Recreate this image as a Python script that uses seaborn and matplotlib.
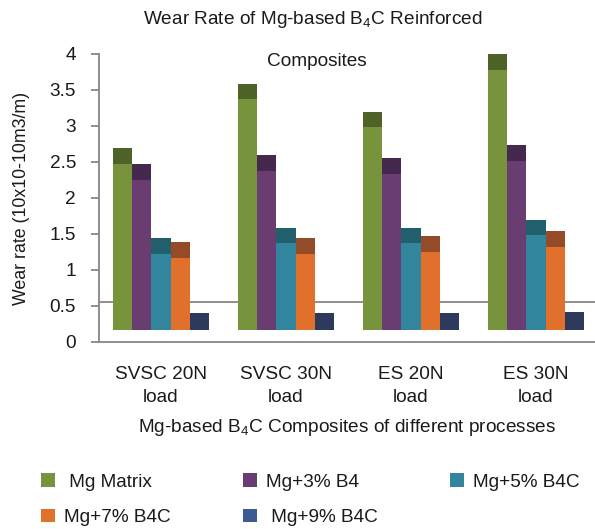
import pandas as pd
import matplotlib
matplotlib.use('Agg')
import matplotlib.pyplot as plt
from matplotlib.patches import Patch
import seaborn as sns

# datos (tope de cada barra, incluida la tapa 3D)
procesos = ['SVSC 20N\nload', 'SVSC 30N\nload', 'ES 20N\nload', 'ES 30N\nload']
compuestos = ['Mg Matrix', 'Mg+3% B4', 'Mg+5% B4C', 'Mg+7% B4C', 'Mg+9% B4C']
mg_matrix = [2.69, 3.59, 3.20, 4.00]
mg_3 = [2.47, 2.60, 2.55, 2.74]
mg_5 = [1.44, 1.59, 1.59, 1.70]
mg_7 = [1.39, 1.44, 1.47, 1.54]
mg_9 = [0.40, 0.40, 0.40, 0.42]

# efecto 3D tipo Excel
piso = 0.17
tapa = 0.22
linea_fondo = 0.55

colores = ['#77933c', '#6a3d72', '#31859c', '#e0702c', '#3d5b93']
colores_tapa = ['#4f6228', '#45284d', '#225f6c', '#944b27', '#2e3a5c']
colores_frente = colores[:4] + [colores_tapa[4]]

series = [mg_matrix, mg_3, mg_5, mg_7, mg_9]
filas = []
for comp, vals in zip(compuestos, series):
    for proc, v in zip(procesos, vals):
        filas.append({'proceso': proc, 'compuesto': comp, 'wear': v, 'frente': max(v - tapa, piso)})
df = pd.DataFrame(filas)

sns.set_style('white')
plt.rcParams['font.family'] = ['Liberation Sans', 'DejaVu Sans']
plt.rcParams['mathtext.fontset'] = 'custom'
plt.rcParams['mathtext.rm'] = 'Liberation Sans'
fs = 13.7
gris = '#8c8580'

fig = plt.figure(figsize=(5.95, 5.29), dpi=100)
ax = fig.add_axes([99 / 595, 1 - 342 / 529, 496 / 595, 288 / 529])

ax.axhline(linea_fondo, color=gris, lw=1.3, zorder=0)

# barra completa (color de tapa)
sns.barplot(data=df, x='proceso', y='wear', hue='compuesto', order=procesos, hue_order=compuestos,
            palette=colores_tapa, width=0.772, gap=0, saturation=1, linewidth=0, legend=False, ax=ax)
# cara frontal
sns.barplot(data=df, x='proceso', y='frente', hue='compuesto', order=procesos, hue_order=compuestos,
            palette=colores_frente, width=0.772, gap=0, saturation=1, linewidth=0, legend=False, ax=ax)

for cont in ax.containers:
    for p in cont.patches:
        h = p.get_height()
        p.set_y(piso)
        p.set_height(max(h - piso, 0))

ax.set_ylim(0, 4)
ax.set_xlim(-0.496, 3.472)
ax.set_yticks([0, 0.5, 1, 1.5, 2, 2.5, 3, 3.5, 4])
ax.set_yticklabels(['0', '0.5', '1', '1.5', '2', '2.5', '3', '3.5', '4'])
ax.tick_params(axis='y', length=6, width=1.3, color=gris, pad=10.5, labelsize=fs, labelcolor='#1a1a1a', left=True)
ax.tick_params(axis='x', length=0, pad=17, labelsize=fs, labelcolor='#1a1a1a')
for t in ax.get_xticklabels():
    t.set_linespacing(1.5)

sns.despine(ax=ax)
for s in ['left', 'bottom']:
    ax.spines[s].set_color(gris)
    ax.spines[s].set_linewidth(1.3)

ax.set_ylabel('Wear rate (10x10-10m3/m)', fontsize=12.8, color='#1a1a1a', labelpad=14)
ax.set_xlabel('Mg-based B$_\\mathregular{4}$C Composites of different processes', fontsize=fs, color='#1a1a1a', labelpad=8)

fig.text(313 / 595, 1 - 19 / 529, 'Wear Rate of Mg-based B$_\\mathregular{4}$C Reinforced', ha='center', va='center',
         fontsize=fs, color='#1a1a1a')
fig.text(317 / 595, 1 - 61 / 529, 'Composites', ha='center', va='center', fontsize=fs, color='#1a1a1a')

# leyenda en filas: el orden se reacomoda porque matplotlib llena por columnas
etiquetas = [' Mg Matrix', 'Mg+3% B4', 'Mg+5% B4C', 'Mg+7% B4C', ' Mg+9% B4C']
handles = [Patch(facecolor=c, edgecolor='none') for c in colores]
orden = [0, 3, 1, 4, 2]
fig.legend([handles[i] for i in orden], [etiquetas[i] for i in orden], loc='upper left',
           bbox_to_anchor=(28 / 595, 1 - 460 / 529), ncol=3, frameon=False,
           fontsize=fs, handlelength=0.7, handleheight=0.7, handletextpad=0.5, columnspacing=3.8,
           labelspacing=0.95, labelcolor='#1a1a1a', borderpad=0.2)

fig.savefig('out.png', dpi=100)
